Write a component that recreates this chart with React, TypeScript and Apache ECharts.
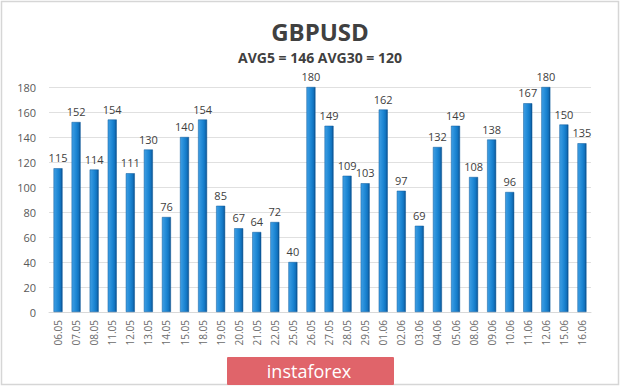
import React, { useEffect, useRef } from "react";
import * as echarts from "echarts";

const categories = ["06.05","07.05","08.05","11.05","12.05","13.05","14.05","15.05","18.05","19.05","20.05","21.05","22.05","25.05","26.05","27.05","28.05","29.05","01.06","02.06","03.06","04.06","05.06","08.06","09.06","10.06","11.06","12.06","15.06","16.06"];
const values = [115,152,114,154,111,130,76,140,154,85,67,64,72,40,180,149,109,103,162,97,69,132,149,108,138,96,167,180,150,135];
const yTicks = { min: 0, max: 180, interval: 20 };
const titleText = "GBPUSD";
const subtitleText = "AVG5 = 146 AVG30 = 120";
const logoText = "instaforex";

export default function App() {
  const ref = useRef<HTMLDivElement>(null);
  useEffect(() => {
    const chart = echarts.init(ref.current!, null, { renderer: "svg" });
    const barColor = new echarts.graphic.LinearGradient(0, 0, 1, 0, [
      { offset: 0, color: "#3f9fe4" },
      { offset: 0.55, color: "#1a84d2" },
      { offset: 0.8, color: "#1272bd" },
      { offset: 1, color: "#0a4f8c" },
    ]);
    chart.setOption({
      animation: false,
      backgroundColor: "#ffffff",
      textStyle: { fontFamily: "Open Sans, sans-serif" },
      grid: { left: 49, right: 29, top: 87, bottom: 74, containLabel: false },
      xAxis: {
        type: "category",
        data: categories,
        axisLine: { show: true, lineStyle: { color: "#d9d9d9" } },
        axisTick: { show: false },
        axisLabel: { rotate: 90, fontSize: 10, color: "#6b6b6b", margin: 8, interval: 0 },
      },
      yAxis: {
        type: "value",
        min: yTicks.min,
        max: yTicks.max,
        interval: yTicks.interval,
        axisLine: { show: false },
        axisTick: { show: false },
        axisLabel: { fontSize: 11, color: "#595959", margin: 13 },
        splitLine: { lineStyle: { color: "#e0e0e0" } },
      },
      series: [
        {
          type: "bar",
          data: values,
          barWidth: 9,
          itemStyle: { color: barColor, borderColor: "#0d5a9c", borderWidth: 0.5 },
          label: { show: true, position: "top", fontSize: 11, color: "#404040", distance: 5 },
        },
      ],
      graphic: [
        {
          type: "rect",
          shape: { x: 1.5, y: 1.5, width: 617, height: 383 },
          style: { fill: "none", stroke: "#d6d6d6", lineWidth: 1.5 },
          silent: true,
        },
        {
          type: "text",
          x: 320,
          y: 31,
          style: {
            text: titleText,
            fill: "#404040",
            fontSize: 24,
            fontWeight: "bold",
            fontFamily: "Open Sans, sans-serif",
            align: "center",
            verticalAlign: "middle",
          },
        },
        {
          type: "text",
          x: 320,
          y: 57.5,
          style: {
            text: subtitleText,
            fill: "#404040",
            fontSize: 14,
            fontWeight: "bold",
            fontFamily: "Open Sans, sans-serif",
            align: "center",
            verticalAlign: "middle",
          },
        },
        {
          type: "rect",
          shape: { x: 227, y: 357, width: 167, height: 28, r: 1 },
          style: { fill: "#e0646a" },
        },
        {
          type: "text",
          x: 309,
          y: 371,
          style: {
            text: logoText,
            fill: "#ffffff",
            fontSize: 18,
            fontFamily: "Open Sans, sans-serif",
            align: "center",
            verticalAlign: "middle",
          },
        },
      ],
    });
    return () => chart.dispose();
  }, []);
  return (
    <div
      ref={ref}
      style={{ position: "fixed", left: 0, top: 0, width: 620, height: 386 }}
    />
  );
}
